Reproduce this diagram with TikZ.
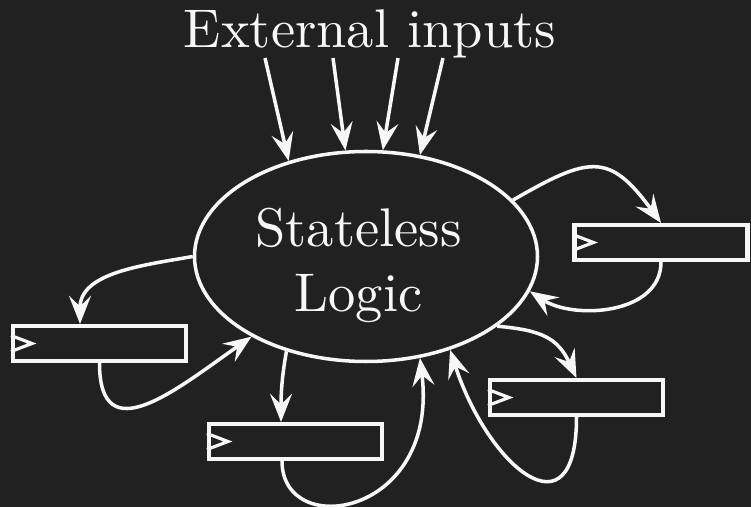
\documentclass[tikz,border=0pt]{standalone}
\usepackage{fontspec}
\setmainfont{lmroman10-regular.otf}
\usepackage{tikz}
\usetikzlibrary{arrows.meta,shapes.geometric}
\definecolor{bgdark}{HTML}{212121}
\definecolor{fgwhite}{HTML}{F7F7F7}

\begin{document}
\begin{tikzpicture}[
    bigtext/.style={text=fgwhite, font=\fontsize{31}{37.2}\selectfont, inner sep=0pt},
    reg/.style={draw=fgwhite, line width=2.3pt, minimum width=3.46cm, minimum height=0.70cm, inner sep=0pt},
    flow/.style={draw=fgwhite, line width=2pt, -{Stealth[length=16pt,width=12.5pt,inset=6pt]}}]
  \path[use as bounding box, fill=bgdark] (0,0) rectangle (15.02,10.14);

  \node[bigtext] (ext) at (7.40,9.47) {External inputs};
  \node[draw=fgwhite, line width=2pt, ellipse, minimum width=6.86cm, minimum height=4.2cm] (logic) at (7.32,5.01) {};
  \node[bigtext, align=center] (logictext) at (7.17,4.83) {Stateless\\Logic};

  % registers with clock mark
  \node[reg] (regA) at (13.22,5.29) {};
  \node[reg] (regB) at (1.99,3.27) {};
  \node[reg] (regC) at (5.91,1.31) {};
  \node[reg] (regD) at (11.53,2.19) {};
  \foreach \r in {regA,regB,regC,regD}
    \draw[fgwhite, line width=1.8pt] ([yshift=0.16cm]\r.west) -- ([xshift=0.42cm]\r.west) -- ([yshift=-0.16cm]\r.west);

  % inputs
  \draw[flow] ([xshift=-2.10cm]ext.south) -- (logic.129);
  \draw[flow] ([xshift=-0.74cm]ext.south) -- (logic.101);
  \draw[flow] ([xshift=0.56cm]ext.south) -- (logic.81);
  \draw[flow] ([xshift=1.46cm]ext.south) -- (logic.62);

  % state loops
  \draw[flow] (logic.21) to[out=30,in=126,looseness=1.5] (regA.north);
  \draw[flow] (regA.south) to[out=-90,in=-33] (logic.-12);
  \draw[flow] (logic.west) to[out=190,in=90] ([xshift=-0.39cm]regB.north);
  \draw[flow] (regB.south) to[out=-90,in=215,looseness=1.5] (logic.215);
  \draw[flow] (logic.230) to[out=-100,in=90] ([xshift=-0.29cm]regC.north);
  \draw[flow] ([xshift=-0.27cm]regC.south) to[out=-90,in=-83,out distance=1.6cm,in distance=3.2cm] (logic.-62);
  \draw[flow] (logic.-28) to[out=-5,in=115,looseness=1.2] (regD.north);
  \draw[flow] (regD.south) to[out=-90,in=-72,looseness=2.2] (logic.-48);
\end{tikzpicture}
\end{document}
